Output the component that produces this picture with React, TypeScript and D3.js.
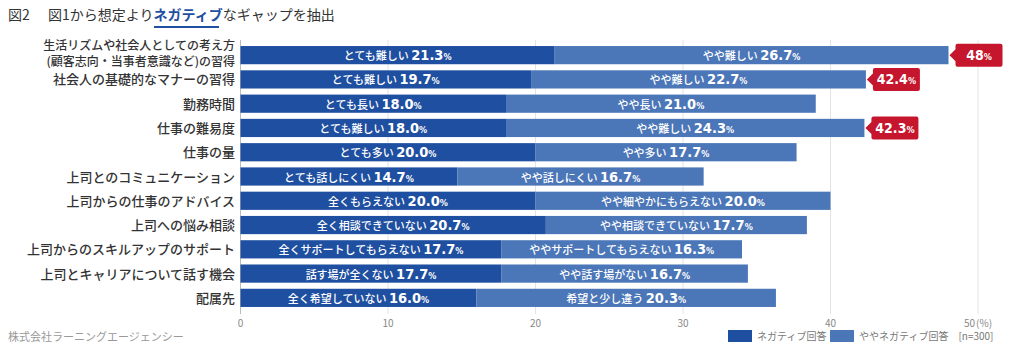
import { scaleBand, scaleLinear } from "d3";

const categories = [
  ["生活リズムや社会人としての考え方", "(顧客志向・当事者意識など)の習得"],
  ["社会人の基礎的なマナーの習得"],
  ["勤務時間"],
  ["仕事の難易度"],
  ["仕事の量"],
  ["上司とのコミュニケーション"],
  ["上司からの仕事のアドバイス"],
  ["上司への悩み相談"],
  ["上司からのスキルアップのサポート"],
  ["上司とキャリアについて話す機会"],
  ["配属先"],
];
const negValues = [21.3, 19.7, 18.0, 18.0, 20.0, 14.7, 20.0, 20.7, 17.7, 17.7, 16.0];
const slightValues = [26.7, 22.7, 21.0, 24.3, 17.7, 16.7, 20.0, 17.7, 16.3, 16.7, 20.3];
const negLabels = [
  "とても難しい", "とても難しい", "とても長い", "とても難しい", "とても多い", "とても話しにくい",
  "全くもらえない", "全く相談できていない", "全くサポートしてもらえない", "話す場が全くない", "全く希望していない",
];
const slightLabels = [
  "やや難しい", "やや難しい", "やや長い", "やや難しい", "やや多い", "やや話しにくい",
  "やや細やかにもらえない", "やや相談できていない", "ややサポートしてもらえない", "やや話す場がない", "希望と少し違う",
];
const callouts = [
  { row: 0, text: "48" },
  { row: 1, text: "42.4" },
  { row: 3, text: "42.3" },
];
const ticks = [0, 10, 20, 30, 40, 50];

const DARK = "#1f4fa0";
const LIGHT = "#4b76b8";
const RED = "#c5162e";
const JP = "'Noto Sans CJK JP', 'Noto Sans', sans-serif";
const NUM = "'DejaVu Sans Condensed', 'DejaVu Sans', sans-serif";

export default function App() {
  const x = scaleLinear().domain([0, 50]).range([240.5, 978]);
  const y = scaleBand<number>()
    .domain(categories.map((_, i) => i))
    .range([43, 310])
    .paddingInner(0.25)
    .paddingOuter(0.125);
  const bw = y.bandwidth();

  const valueText = (label: string, v: number, cx: number, cy: number) => (
    <text x={cx} y={cy + 5} textAnchor="middle" fill="#fff">
      <tspan fontFamily={JP} fontSize={11} fontWeight={500}>{label} </tspan>
      <tspan fontFamily={NUM} fontSize={14.5} fontWeight="bold">{v.toFixed(1)}</tspan>
      <tspan fontFamily={NUM} fontSize={9} fontWeight="bold">%</tspan>
    </text>
  );

  return (
    <svg width={1020} height={350} style={{ position: "absolute", left: 0, top: 0, background: "#fff" }}>
      {/* title */}
      <text x={8} y={20} fontFamily={JP} fontSize={14} fill="#333">
        <tspan>図2</tspan>
        <tspan x={48}>図1から想定より</tspan>
        <tspan fill={DARK} fontWeight="bold">ネガティブ</tspan>
        <tspan>なギャップを抽出</tspan>
      </text>
      <line x1={154} x2={219} y1={27} y2={27} stroke={DARK} strokeWidth={2} />

      {/* grid */}
      {ticks.map((t) => (
        <g key={t}>
          <line x1={x(t)} x2={x(t)} y1={40} y2={314} stroke={t === 0 ? "#bbb" : "#e3e3e3"} strokeWidth={1} />
          <text x={x(t)} y={327} textAnchor="middle" fontFamily={JP} fontSize={10} fill="#888">
            {t}
            {t === 50 && <tspan dx={1}>(%)</tspan>}
          </text>
        </g>
      ))}

      {/* bars */}
      {categories.map((lines, i) => {
        const top = y(i)!;
        const cy = top + bw / 2;
        const neg = negValues[i];
        const sl = slightValues[i];
        return (
          <g key={i}>
            <rect x={x(0)} y={top} width={x(neg) - x(0)} height={bw} fill={DARK} />
            <rect x={x(neg)} y={top} width={x(neg + sl) - x(neg)} height={bw} fill={LIGHT} />
            {valueText(negLabels[i], neg, (x(0) + x(neg)) / 2, cy)}
            {valueText(slightLabels[i], sl, (x(neg) + x(neg + sl)) / 2, cy)}
            {lines.length === 1 ? (
              <text x={235} y={cy + 5} textAnchor="end" fontFamily={JP} fontSize={13} fontWeight={500} fill="#333">
                {lines[0]}
              </text>
            ) : (
              <g fontFamily={JP} fontSize={12} fontWeight={500} fill="#333" textAnchor="end">
                <text x={235} y={cy - 5.5}>{lines[0]}</text>
                <text x={235} y={cy + 11}>{lines[1]}</text>
              </g>
            )}
          </g>
        );
      })}

      {/* callouts */}
      {callouts.map((c) => {
        const total = negValues[c.row] + slightValues[c.row];
        const cy = y(c.row)! + bw / 2;
        const tip = x(total) + 1;
        const bx = tip + 6;
        const w = 47;
        const h = 23;
        const d = `M${tip},${cy} L${bx},${cy - 6} L${bx},${cy - h / 2 + 2} Q${bx},${cy - h / 2} ${bx + 2},${cy - h / 2} L${bx + w - 2},${cy - h / 2} Q${bx + w},${cy - h / 2} ${bx + w},${cy - h / 2 + 2} L${bx + w},${cy + h / 2 - 2} Q${bx + w},${cy + h / 2} ${bx + w - 2},${cy + h / 2} L${bx + 2},${cy + h / 2} Q${bx},${cy + h / 2} ${bx},${cy + h / 2 - 2} L${bx},${cy + 6} Z`;
        return (
          <g key={c.row}>
            <path d={d} fill={RED} />
            <text x={bx + w / 2} y={cy + 5} textAnchor="middle" fill="#fff" fontFamily={NUM} fontWeight="bold">
              <tspan fontSize={14}>{c.text}</tspan>
              <tspan fontSize={9}>%</tspan>
            </text>
          </g>
        );
      })}

      {/* footer */}
      <text x={8} y={341} fontFamily={JP} fontSize={11} fill="#999">株式会社ラーニングエージェンシー</text>

      {/* legend */}
      <rect x={728} y={330} width={24} height={12} fill={DARK} />
      <text x={757} y={340} fontFamily={JP} fontSize={10} fill="#777">ネガティブ回答</text>
      <rect x={830} y={330} width={24} height={12} fill={LIGHT} />
      <text x={859} y={340} fontFamily={JP} fontSize={10} fill="#777">ややネガティブ回答　[n=300]</text>
    </svg>
  );
}
